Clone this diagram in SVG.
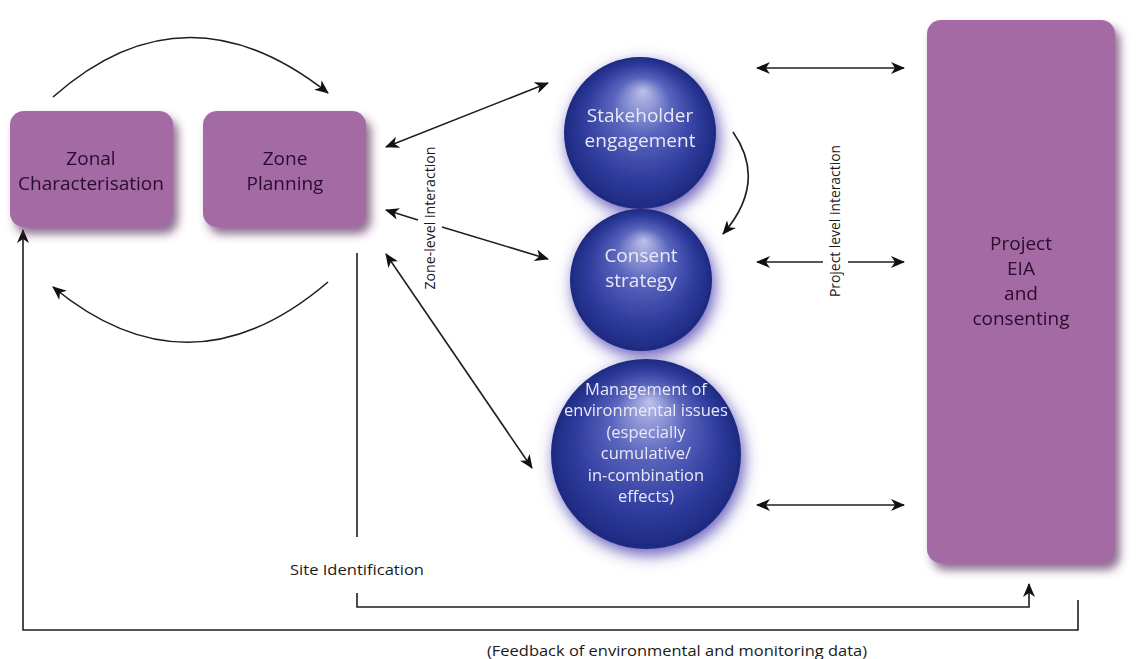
<svg xmlns="http://www.w3.org/2000/svg" width="1142" height="659" viewBox="0 0 1142 659">
  <defs>
    <style>
      .box { fill: #a46aa4; }
      .boxtxt { font-family: "Open Sans", "Noto Sans", sans-serif; font-size: 19px; fill: #2b0b2d; text-anchor: middle; }
      .orbtxt { font-family: "Open Sans", "Noto Sans", sans-serif; font-size: 19px; fill: #e9e9f6; text-anchor: middle; }
      .orbsmall { font-family: "Open Sans", "Noto Sans", sans-serif; font-size: 16.5px; fill: #e9e9f6; text-anchor: middle; }
      .lbl { font-family: "Open Sans", "Noto Sans", sans-serif; font-size: 15px; fill: #1a1a1a; text-anchor: middle; }
      .wire { fill: none; stroke: #1e1e1e; stroke-width: 1.6; }
    </style>
    <marker id="head" markerWidth="14" markerHeight="12" viewBox="0 0 14 12" refX="13" refY="6" orient="auto-start-reverse" markerUnits="userSpaceOnUse">
      <path d="M0,0 L14,6 L0,12 L4,6 Z" fill="#111"/>
    </marker>
    <filter id="boxShadow" x="-20%" y="-20%" width="150%" height="150%">
      <feGaussianBlur in="SourceAlpha" stdDeviation="5"/>
      <feOffset dx="5" dy="7" result="b"/>
      <feFlood flood-color="#5c2f5e" flood-opacity="0.7"/>
      <feComposite in2="b" operator="in"/>
      <feMerge><feMergeNode/><feMergeNode in="SourceGraphic"/></feMerge>
    </filter>
    <filter id="orbGlow" x="-40%" y="-40%" width="180%" height="180%">
      <feGaussianBlur in="SourceAlpha" stdDeviation="8"/>
      <feOffset dx="3" dy="6" result="b"/>
      <feFlood flood-color="#4b3fae" flood-opacity="0.85"/>
      <feComposite in2="b" operator="in"/>
      <feMerge><feMergeNode/><feMergeNode in="SourceGraphic"/></feMerge>
    </filter>
    <radialGradient id="orb" cx="0.5" cy="0.5" r="0.5" fx="0.52" fy="0.22">
      <stop offset="0" stop-color="#bcc0ea"/>
      <stop offset="0.38" stop-color="#5a65bd"/>
      <stop offset="0.75" stop-color="#2f3c9d"/>
      <stop offset="1" stop-color="#1d2a80"/>
    </radialGradient>
  </defs>

  <rect width="1142" height="659" fill="#ffffff"/>

  <!-- connectors -->
  <g id="connectors">
    <!-- cycle between zonal characterisation and zone planning -->
    <path class="wire" d="M53,97 Q185,-20 328,93" marker-end="url(#head)"/>
    <path class="wire" d="M328,282 Q190,400 53,287" marker-end="url(#head)"/>
    <!-- zone-level interaction -->
    <line class="wire" x1="386" y1="147" x2="548" y2="83" marker-start="url(#head)" marker-end="url(#head)"/>
    <line class="wire" x1="386" y1="210" x2="418" y2="220" marker-start="url(#head)"/>
    <line class="wire" x1="442" y1="227" x2="548" y2="259" marker-end="url(#head)"/>
    <line class="wire" x1="386" y1="254" x2="532" y2="468" marker-start="url(#head)" marker-end="url(#head)"/>
    <!-- engagement feeds strategy -->
    <path class="wire" d="M733,132 Q768,182 723,234" marker-end="url(#head)"/>
    <!-- project level interaction -->
    <line class="wire" x1="757" y1="68" x2="904" y2="68" marker-start="url(#head)" marker-end="url(#head)"/>
    <line class="wire" x1="757" y1="262" x2="823" y2="262" marker-start="url(#head)"/>
    <line class="wire" x1="848" y1="262" x2="904" y2="262" marker-end="url(#head)"/>
    <line class="wire" x1="757" y1="505" x2="904" y2="505" marker-start="url(#head)" marker-end="url(#head)"/>
    <!-- site identification route -->
    <line class="wire" x1="357" y1="253" x2="357" y2="537"/>
    <polyline class="wire" points="357,593 357,607 1029,607 1029,584" marker-end="url(#head)"/>
    <!-- feedback loop -->
    <polyline class="wire" points="1078,600 1078,630 23,630 23,230" marker-end="url(#head)"/>
    <!-- connector labels -->
    <text class="lbl" transform="translate(435,218) rotate(-90)" textLength="143" lengthAdjust="spacingAndGlyphs">Zone-level interaction</text>
    <text class="lbl" transform="translate(840,221) rotate(-90)" textLength="152" lengthAdjust="spacingAndGlyphs">Project level interaction</text>
    <text class="lbl" x="357" y="575" textLength="134" lengthAdjust="spacingAndGlyphs">Site Identification</text>
    <text class="lbl" x="677" y="656" textLength="380" lengthAdjust="spacingAndGlyphs">(Feedback of environmental and monitoring data)</text>
  </g>

  <g id="zonal-characterisation" filter="url(#boxShadow)">
    <rect class="box" x="10" y="111" width="163" height="116" rx="14"/>
    <text class="boxtxt" x="91" y="165">Zonal</text>
    <text class="boxtxt" x="91" y="190">Characterisation</text>
  </g>

  <g id="zone-planning" filter="url(#boxShadow)">
    <rect class="box" x="203" y="111" width="163" height="116" rx="14"/>
    <text class="boxtxt" x="285" y="165">Zone</text>
    <text class="boxtxt" x="285" y="190">Planning</text>
  </g>

  <g id="stakeholder-engagement" filter="url(#orbGlow)">
    <circle cx="640" cy="133" r="76" fill="url(#orb)"/>
    <text class="orbtxt" x="640" y="122">Stakeholder</text>
    <text class="orbtxt" x="640" y="147">engagement</text>
  </g>

  <g id="consent-strategy" filter="url(#orbGlow)">
    <circle cx="641" cy="280" r="71" fill="url(#orb)"/>
    <text class="orbtxt" x="641" y="262">Consent</text>
    <text class="orbtxt" x="641" y="287">strategy</text>
  </g>

  <g id="environmental-issues" filter="url(#orbGlow)">
    <circle cx="646" cy="454" r="95" fill="url(#orb)"/>
    <text class="orbsmall" x="646" y="395">Management of</text>
    <text class="orbsmall" x="646" y="416">environmental issues</text>
    <text class="orbsmall" x="646" y="438">(especially</text>
    <text class="orbsmall" x="646" y="459">cumulative/</text>
    <text class="orbsmall" x="646" y="481">in-combination</text>
    <text class="orbsmall" x="646" y="502">effects)</text>
  </g>

  <g id="project-eia" filter="url(#boxShadow)">
    <rect class="box" x="927" y="20" width="188" height="543" rx="14"/>
    <text class="boxtxt" x="1021" y="250">Project</text>
    <text class="boxtxt" x="1021" y="275">EIA</text>
    <text class="boxtxt" x="1021" y="300">and</text>
    <text class="boxtxt" x="1021" y="325">consenting</text>
  </g>
</svg>
